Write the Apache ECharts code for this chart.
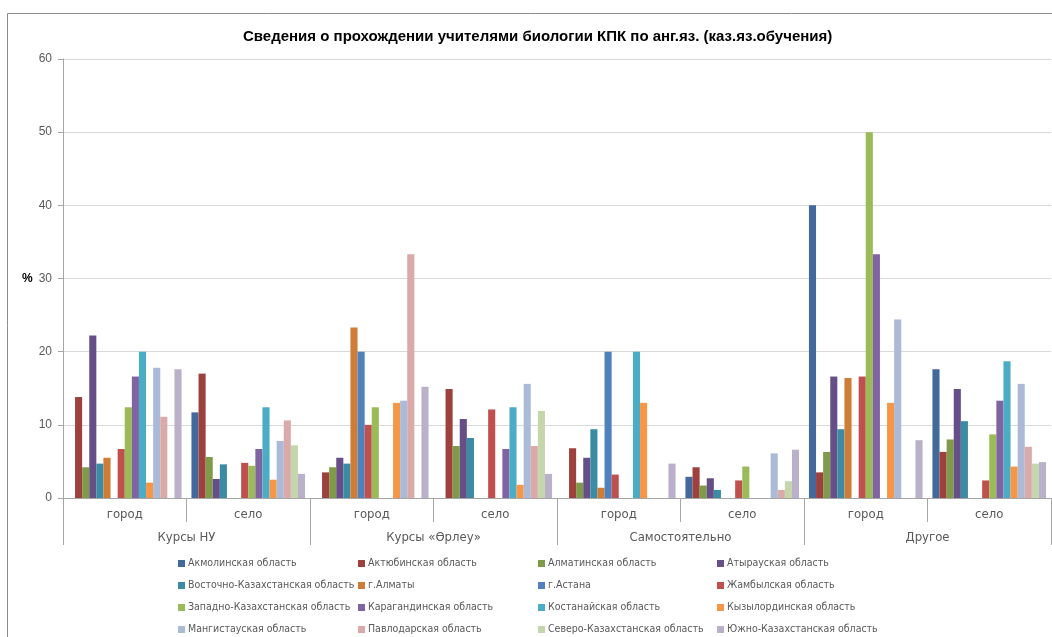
<!DOCTYPE html>
<html>
<head>
<meta charset="utf-8">
<script src="https://cdn.jsdelivr.net/npm/echarts@6/dist/echarts.min.js"></script>
<style>
  html, body { margin: 0; padding: 0; background: #fff; }
  #chart { width: 1052px; height: 637px; }
</style>
</head>
<body>
<div id="chart"></div>
<script>
// подписи оси X: нижний уровень и группы
var categories = ['город', 'село', 'город', 'село', 'город', 'село', 'город', 'село'];
var groups = ['Курсы НУ', 'Курсы «Өрлеу»', 'Самостоятельно', 'Другое'];

// значения в %, по порядку categories
var akmola      = [0, 11.7, 0, 0, 0, 2.9, 40, 17.6];
var aktobe      = [13.8, 17.0, 3.5, 14.9, 6.8, 4.2, 3.5, 6.3];
var almatyObl   = [4.2, 5.6, 4.2, 7.1, 2.1, 1.7, 6.3, 8.0];
var atyrau      = [22.2, 2.6, 5.5, 10.8, 5.5, 2.7, 16.6, 14.9];
var eastKz      = [4.7, 4.6, 4.7, 8.2, 9.4, 1.1, 9.4, 10.5];
var almatyCity  = [5.5, 0, 23.3, 0, 1.4, 0, 16.4, 0];
var astana      = [0, 0, 20, 0, 20, 0, 0, 0];
var zhambyl     = [6.7, 4.8, 10.0, 12.1, 3.2, 2.4, 16.6, 2.4];
var westKz      = [12.4, 4.4, 12.4, 0, 0, 4.3, 50, 8.7];
var karaganda   = [16.6, 6.7, 0, 6.7, 0, 0, 33.3, 13.3];
var kostanay    = [20, 12.4, 0, 12.4, 20, 0, 0, 18.7];
var kyzylorda   = [2.1, 2.5, 13.0, 1.8, 13.0, 0, 13.0, 4.3];
var mangystau   = [17.8, 7.8, 13.3, 15.6, 0, 6.1, 24.4, 15.6];
var pavlodar    = [11.1, 10.6, 33.3, 7.1, 0, 1.1, 0, 7.0];
var northKz     = [0, 7.2, 0, 11.9, 0, 2.3, 0, 4.7];
var southKz     = [17.6, 3.3, 15.2, 3.3, 4.7, 6.6, 7.9, 4.9];

var seriesList = [
  ['Акмолинская область', akmola, '#41699C'],
  ['Актюбинская область', aktobe, '#9E413E'],
  ['Алматинская область', almatyObl, '#7F9A48'],
  ['Атырауская область', atyrau, '#664F86'],
  ['Восточно-Казахстанская область', eastKz, '#3A8BA3'],
  ['г.Алматы', almatyCity, '#CE7C36'],
  ['г.Астана', astana, '#4F81BD'],
  ['Жамбылская область', zhambyl, '#C0504D'],
  ['Западно-Казахстанская область', westKz, '#9BBB59'],
  ['Карагандинская область', karaganda, '#8064A2'],
  ['Костанайская область', kostanay, '#4BACC6'],
  ['Кызылординская область', kyzylorda, '#F79646'],
  ['Мангистауская область', mangystau, '#AABAD7'],
  ['Павлодарская область', pavlodar, '#D9AAA9'],
  ['Северо-Казахстанская область', northKz, '#C6D6AC'],
  ['Южно-Казахстанская область', southKz, '#BAB0C9']
];

var FONT = "'Liberation Sans Narrow', 'DejaVu Sans Condensed', 'Liberation Sans', sans-serif";
var GRAY = '#595959';
var LINE = '#A6A6A6';

var chart = echarts.init(document.getElementById('chart'), null, { renderer: 'canvas' });

// легенда: сетка 4x4, у каждого элемента своя позиция
var colX = [178, 358, 538, 717];
var legends = seriesList.map(function (s, i) {
  return {
    orient: 'horizontal',
    left: colX[i % 4],
    top: 558 + Math.floor(i / 4) * 22,
    padding: 0,
    itemWidth: 7,
    itemHeight: 7,
    icon: 'rect',
    selectedMode: false,
    textStyle: { color: GRAY, fontFamily: FONT, fontSize: 10.5, padding: [0, 0, 0, -2] },
    data: [s[0]]
  };
});

var option = {
  animation: false,
  backgroundColor: '#fff',
  title: {
    text: 'Сведения о прохождении учителями биологии КПК по анг.яз. (каз.яз.обучения)',
    left: 238,
    top: 24,
    textStyle: { fontFamily: "'Liberation Sans', sans-serif", fontWeight: 'bold', fontSize: 15, color: '#000' }
  },
  legend: legends,
  graphic: [{
    type: 'rect',
    shape: { x: 7.5, y: 13.5, width: 1100, height: 700 },
    style: { fill: 'none', stroke: '#8C8C8C', lineWidth: 1 },
    silent: true
  }],
  grid: { left: 63, right: 1, top: 59, bottom: 139 },
  yAxis: {
    type: 'value',
    min: 0,
    max: 60,
    interval: 10,
    name: '%',
    nameLocation: 'middle',
    nameRotate: 0,
    nameGap: 30,
    nameTextStyle: { fontFamily: "'Liberation Sans', sans-serif", fontWeight: 'bold', fontSize: 12, color: '#000' },
    axisLine: { show: true, lineStyle: { color: LINE } },
    axisTick: { show: true, length: 5, lineStyle: { color: LINE } },
    axisLabel: { color: GRAY, fontFamily: "'Liberation Sans', sans-serif", fontSize: 12, margin: 11 },
    splitLine: { lineStyle: { color: '#D9D9D9' } }
  },
  xAxis: [{
    type: 'category',
    data: categories,
    position: 'bottom',
    axisLine: { lineStyle: { color: LINE } },
    axisTick: { show: true, length: 24, alignWithLabel: false, lineStyle: { color: LINE } },
    axisLabel: { color: GRAY, fontFamily: FONT, fontSize: 13, margin: 10 }
  }, {
    type: 'category',
    data: groups,
    position: 'bottom',
    axisLine: { show: false },
    axisTick: { show: true, length: 47, alignWithLabel: false, lineStyle: { color: LINE } },
    axisLabel: { color: GRAY, fontFamily: FONT, fontSize: 13, margin: 33 }
  }],
  series: seriesList.map(function (s) {
    return {
      name: s[0],
      type: 'bar',
      xAxisIndex: 0,
      data: s[1],
      barGap: '0%',
      barCategoryGap: '8%',
      itemStyle: { color: s[2] }
    };
  })
};

chart.setOption(option);
</script>
</body>
</html>
